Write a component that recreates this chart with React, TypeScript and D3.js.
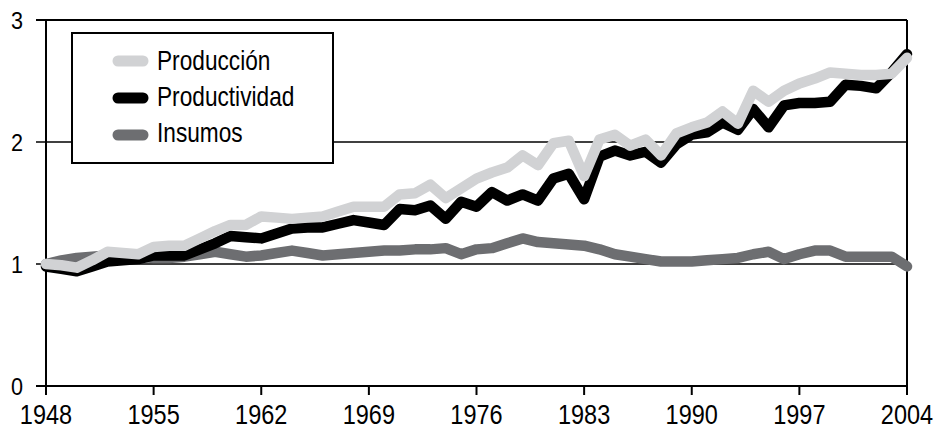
import React from "react";
import * as d3 from "d3";

const years: number[] = d3.range(1948, 2005);

const produccion: number[] = [
  1.00, 0.99, 0.97, 1.03, 1.10, 1.09, 1.08, 1.14, 1.15, 1.15,
  1.21, 1.27, 1.32, 1.32, 1.39, 1.38, 1.37, 1.38, 1.39, 1.43,
  1.47, 1.47, 1.47, 1.57, 1.58, 1.65, 1.54, 1.62, 1.70, 1.75,
  1.79, 1.89, 1.81, 1.99, 2.01, 1.72, 2.02, 2.06, 1.97, 2.02,
  1.89, 2.07, 2.12, 2.16, 2.25, 2.15, 2.42, 2.33, 2.42, 2.48,
  2.52, 2.57, 2.56, 2.55, 2.55, 2.56, 2.69,
];

const productividad: number[] = [
  0.98, 0.96, 0.94, 0.98, 1.02, 1.03, 1.04, 1.07, 1.07, 1.07,
  1.12, 1.17, 1.23, 1.22, 1.21, 1.25, 1.29, 1.30, 1.30, 1.33,
  1.36, 1.34, 1.32, 1.45, 1.44, 1.48, 1.37, 1.51, 1.47, 1.59,
  1.52, 1.57, 1.52, 1.70, 1.74, 1.53, 1.88, 1.93, 1.89, 1.92,
  1.83, 1.98, 2.06, 2.08, 2.16, 2.10, 2.27, 2.12, 2.30, 2.32,
  2.32, 2.33, 2.47, 2.46, 2.44, 2.57, 2.72,
];

const insumos: number[] = [
  1.00, 1.03, 1.05, 1.06, 1.07, 1.07, 1.06, 1.05, 1.05, 1.06,
  1.08, 1.10, 1.08, 1.06, 1.07, 1.09, 1.11, 1.09, 1.07, 1.08,
  1.09, 1.10, 1.11, 1.11, 1.12, 1.12, 1.13, 1.08, 1.12, 1.13,
  1.17, 1.21, 1.18, 1.17, 1.16, 1.15, 1.12, 1.08, 1.06, 1.04,
  1.02, 1.02, 1.02, 1.03, 1.04, 1.05, 1.08, 1.10, 1.04, 1.08,
  1.11, 1.11, 1.06, 1.06, 1.06, 1.06, 0.98,
];

const xTicks: number[] = [1948, 1955, 1962, 1969, 1976, 1983, 1990, 1997, 2004];
const yTicks: number[] = [0, 1, 2, 3];

const seriesNames: string[] = ["Producción", "Productividad", "Insumos"];
const seriesColors: string[] = ["#d1d2d4", "#000000", "#6d6e71"];

const W = 934;
const H = 430;
const left = 46;
const right = 907;
const top = 20;
const bottom = 386;
const FONT = "'Liberation Sans', Arial, sans-serif";

export default function App() {
  const x = d3.scaleLinear().domain([1948, 2004]).range([left, right]);
  const y = d3.scaleLinear().domain([0, 3]).range([bottom, top]);
  const line = d3
    .line<number>()
    .x((_, i) => x(years[i]))
    .y((d) => y(d));

  const data = [produccion, productividad, insumos];
  const drawOrder = [2, 1, 0];

  return (
    <svg
      width={W}
      height={H}
      style={{ position: "absolute", left: 0, top: 0, display: "block", background: "#fff" }}
    >
      {yTicks.map((t) => (
        <line
          key={"g" + t}
          x1={36}
          x2={right}
          y1={y(t)}
          y2={y(t)}
          stroke="#000"
          strokeWidth={t === 0 || t === 3 ? 2 : 1.5}
        />
      ))}
      <line x1={left} x2={left} y1={top} y2={395} stroke="#000" strokeWidth={2} />
      <line x1={right} x2={right} y1={top} y2={395} stroke="#000" strokeWidth={2} />
      {xTicks.map((t) => (
        <line key={"xt" + t} x1={x(t)} x2={x(t)} y1={bottom} y2={395} stroke="#000" strokeWidth={2} />
      ))}
      {yTicks.map((t) => (
        <g key={"yl" + t} transform={`translate(23,${y(t) + 9}) scale(0.9,1)`}>
          <text x={0} y={0} textAnchor="end" fontFamily={FONT} fontSize={24} fill="#000">
            {t}
          </text>
        </g>
      ))}
      {xTicks.map((t) => (
        <g key={"xl" + t} transform={`translate(${x(t)},424) scale(0.84,1)`}>
          <text x={0} y={0} textAnchor="middle" fontFamily={FONT} fontSize={28} fill="#000">
            {t}
          </text>
        </g>
      ))}

      {drawOrder.map((i) => (
        <path
          key={"s" + i}
          d={line(data[i]) || ""}
          fill="none"
          stroke={seriesColors[i]}
          strokeWidth={10.5}
          strokeLinejoin="round"
          strokeLinecap="round"
        />
      ))}

      <rect x={72} y={33} width={261} height={130} fill="#fff" stroke="#000" strokeWidth={2} />
      {seriesNames.map((name, i) => (
        <g key={"lg" + i}>
          <line
            x1={118}
            x2={143}
            y1={61 + i * 37}
            y2={61 + i * 37}
            stroke={seriesColors[i]}
            strokeWidth={11}
            strokeLinecap="round"
          />
          <g transform={`translate(157,${70 + i * 36}) scale(0.84,1)`}>
            <text x={0} y={0} fontFamily={FONT} fontSize={27} fill="#000">
              {name}
            </text>
          </g>
        </g>
      ))}
    </svg>
  );
}
